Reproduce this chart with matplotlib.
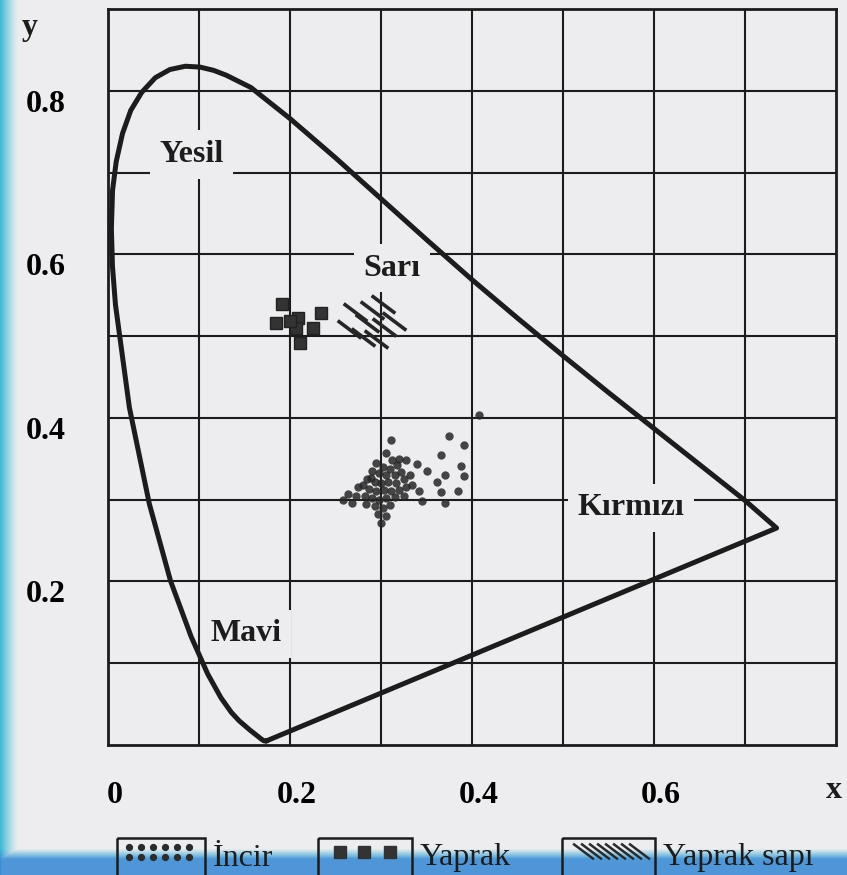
import numpy as np
import matplotlib
matplotlib.use('Agg')
import matplotlib.pyplot as plt
from matplotlib.path import Path
from matplotlib.patches import Rectangle
from matplotlib.transforms import ScaledTranslation

# spectral locus (x, y); purple line closes it
locus_x = [0.1741, 0.1733, 0.1714, 0.1689, 0.1644, 0.1566, 0.1440, 0.1355, 0.1241,
           0.1096, 0.0913, 0.0687, 0.0454, 0.0235, 0.0082, 0.0049, 0.0037, 0.0050,
           0.0090, 0.0160, 0.0250, 0.0370, 0.0520, 0.0680, 0.0850, 0.1010, 0.1160,
           0.1300, 0.1570, 0.2000, 0.2500, 0.3000, 0.3500, 0.4000, 0.4500,
           0.5000, 0.5500, 0.6000, 0.6500, 0.7000, 0.7347, 0.1741]
locus_y = [0.0050, 0.0048, 0.0051, 0.0069, 0.0109, 0.0177, 0.0297, 0.0399, 0.0578,
           0.0868, 0.1327, 0.2007, 0.2950, 0.4127, 0.5384, 0.5855, 0.6314, 0.6783,
           0.7133, 0.7480, 0.7760, 0.7980, 0.8160, 0.8260, 0.8300, 0.8290, 0.8250,
           0.8190, 0.8040, 0.7660, 0.7180, 0.6680, 0.6180, 0.5690, 0.5220,
           0.4760, 0.4310, 0.3870, 0.3430, 0.2990, 0.2653, 0.0050]

# Incir (fig fruit) points
incir_x = [0.408, 0.375, 0.391, 0.366, 0.388, 0.370, 0.391, 0.361, 0.342, 0.366,
           0.385, 0.345, 0.370, 0.311, 0.305, 0.328, 0.340, 0.350, 0.264, 0.275,
           0.289, 0.295, 0.302, 0.310, 0.318, 0.322, 0.315, 0.306, 0.298, 0.290,
           0.285, 0.293, 0.300, 0.308, 0.316, 0.325, 0.332, 0.280, 0.287, 0.295,
           0.303, 0.311, 0.320, 0.328, 0.272, 0.282, 0.290, 0.298, 0.306, 0.315,
           0.325, 0.284, 0.293, 0.302, 0.310, 0.297, 0.305, 0.300, 0.258, 0.268,
           0.334, 0.312, 0.320]
incir_y = [0.404, 0.378, 0.367, 0.355, 0.341, 0.330, 0.329, 0.322, 0.311, 0.309,
           0.310, 0.298, 0.296, 0.373, 0.357, 0.349, 0.344, 0.335, 0.307, 0.315,
           0.327, 0.345, 0.340, 0.338, 0.342, 0.334, 0.330, 0.330, 0.333, 0.335,
           0.325, 0.322, 0.320, 0.322, 0.320, 0.325, 0.330, 0.318, 0.313, 0.310,
           0.312, 0.310, 0.312, 0.315, 0.305, 0.305, 0.302, 0.300, 0.302, 0.303,
           0.305, 0.295, 0.292, 0.290, 0.293, 0.283, 0.280, 0.272, 0.300, 0.296,
           0.318, 0.348, 0.350]

# Yaprak (leaf) points
yaprak_x = [0.191, 0.185, 0.209, 0.207, 0.225, 0.234, 0.211, 0.200]
yaprak_y = [0.539, 0.516, 0.522, 0.510, 0.510, 0.528, 0.492, 0.518]

# Yaprak sapi (leaf stalk) points
sap_x = [0.271, 0.265, 0.290, 0.302, 0.314, 0.280, 0.295, 0.303, 0.285]
sap_y = [0.529, 0.509, 0.532, 0.539, 0.518, 0.499, 0.496, 0.511, 0.516]

region_names = ['Yesil', 'Sarı', 'Kırmızı', 'Mavi']
region_x = [0.092, 0.312, 0.575, 0.152]
region_y = [0.722, 0.583, 0.290, 0.136]

x_ticks = [0, 0.2, 0.4, 0.6]
x_labels = ['0', '0.2', '0.4', '0.6']
y_ticks = [0.2, 0.4, 0.6, 0.8]
y_labels = ['0.2', '0.4', '0.6', '0.8']
legend_names = ['İncir', 'Yaprak', 'Yaprak sapı']

bg = '#ededef'
ink = '#1c1c1c'
serif = 'Liberation Serif'

fig = plt.figure(figsize=(8.47, 8.75), dpi=100, facecolor=bg)
ax = fig.add_axes([108 / 847, 130 / 875, 728 / 847, 736 / 875], facecolor=bg)
ax.set_xlim(0, 0.8)
ax.set_ylim(0, 0.9)

# grid every 0.1
for gx in np.arange(0.1, 0.8, 0.1):
    ax.axvline(gx, color=ink, lw=1.5, zorder=1)
for gy in np.arange(0.1, 0.9, 0.1):
    ax.axhline(gy, color=ink, lw=1.5, zorder=1)
for s in ax.spines.values():
    s.set_linewidth(2.0)
    s.set_color(ink)

ax.plot(locus_x, locus_y, color=ink, lw=3.6, solid_joinstyle='round',
        solid_capstyle='round', zorder=5)

ax.plot(incir_x, incir_y, 'o', ms=6, color='#262626', alpha=0.85,
        mec='none', zorder=4)
ax.plot(yaprak_x, yaprak_y, 's', ms=8.5, color='#333333', mec='#222222',
        zorder=4)
stroke = Path([(-1, 0.75), (1, -0.75)], [Path.MOVETO, Path.LINETO])
ax.plot(sap_x, sap_y, ls='none', marker=stroke, ms=17, mew=2.6,
        mec='#262626', zorder=4)

for name, tx, ty in zip(region_names, region_x, region_y):
    ax.text(tx, ty, name, ha='center', va='center', fontsize=23,
            family=serif, fontweight='bold', color=ink, zorder=3,
            bbox=dict(boxstyle='square,pad=0.3', fc=bg, ec='none'))

ax.set_xticks(x_ticks)
ax.set_xticklabels(x_labels)
ax.set_yticks(y_ticks)
ax.set_yticklabels(y_labels)
ax.tick_params(length=0, labelsize=23, pad=26)
for lab in ax.get_xticklabels():
    lab.set_family(serif)
    lab.set_fontweight('bold')
    lab.set_transform(lab.get_transform() + ScaledTranslation(0.07, 0, fig.dpi_scale_trans))
for lab in ax.get_yticklabels():
    lab.set_family(serif)
    lab.set_fontweight('bold')
    lab.set_ha('center')
    lab.set_transform(lab.get_transform() + ScaledTranslation(-0.26, -0.1, fig.dpi_scale_trans))

# axis names
fig.text(30 / 847, 1 - 28 / 875, 'y', ha='center', va='center', fontsize=23,
         family=serif, fontweight='bold', color=ink)
fig.text(834 / 847, 1 - 790 / 875, 'x', ha='center', va='center', fontsize=23,
         family=serif, fontweight='bold', color=ink)

# blue scanner edge on left and bottom
H, W = 875, 847
xx, yy = np.meshgrid(np.arange(W), np.arange(H))
a_left = np.clip(1 - xx / 18, 0, 1) ** 1.3
a_bot = np.clip((yy - 848) / 10, 0, 1) * 0.9
alpha = np.maximum(a_left, a_bot)
rgba = np.zeros((H, W, 4))
rgba[..., 0] = 0.24
rgba[..., 1] = 0.55 + 0.18 * np.clip((860 - yy) / 12, 0, 1)
rgba[..., 2] = 0.84
rgba[..., 3] = alpha
ov = fig.add_axes([0, 0, 1, 1], zorder=10)
ov.imshow(rgba, extent=(0, W, H, 0), aspect='auto', interpolation='bilinear')
ov.set_xlim(0, W)
ov.set_ylim(H, 0)
ov.axis('off')

# legend drawn in pixel space, above the scanner edge
lg = fig.add_axes([0, 0, 1, 1], zorder=11)
lg.set_xlim(0, 847)
lg.set_ylim(875, 0)
lg.axis('off')
boxes = [(117, 205), (318, 412), (562, 655)]
for (x0, x1) in boxes:
    lg.add_patch(Rectangle((x0, 838), x1 - x0, 50, fill=False, ec=ink, lw=1.8))
dx = np.arange(129, 195, 12)
lg.plot(np.tile(dx, 2), np.repeat([847, 857], len(dx)), 'o', ms=4.2, color='#2b2b2b')
lg.plot([340, 364, 390], [852, 852, 852], 's', ms=9, color='#333333')
lg.plot(np.arange(583, 640, 8), np.full(8, 851), ls='none', marker=stroke,
        ms=15, mew=1.8, mec='#2a2a2a')
for name, (x0, x1) in zip(legend_names, boxes):
    lg.text(x1 + 8, 858, name, ha='left', va='center', fontsize=23,
            family=serif, color=ink)

fig.savefig('out.png', dpi=100, facecolor=bg)
plt.close(fig)
